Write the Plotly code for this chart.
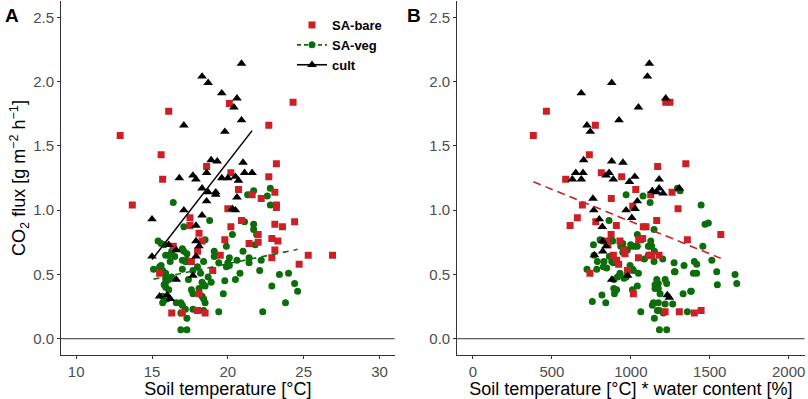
import plotly.graph_objects as go

# ---------------- data ----------------
# Panel A: soil temperature [°C] vs CO2 flux
bare_T = [12.9, 16.1, 20.1, 24.3, 15.6, 22.7, 23.2, 18.6, 20.2, 15.7, 22.7, 20.7, 23.1, 21.6, 22.2,
          13.7, 23.2, 23.2, 20.0, 20.2, 20.9, 17.5, 17.5, 21.4, 22.0, 22.0, 23.1, 23.6, 24.4, 22.9,
          23.3, 23.1, 22.9, 19.8, 19.5, 25.3, 26.9, 24.7, 19.0, 16.4, 18.1, 18.3, 18.0, 17.6, 15.5,
          18.1, 16.3, 17.0, 18.0, 18.5]
bare_F = [1.58, 1.77, 1.83, 1.84, 1.43, 1.66, 1.36, 1.34, 1.29, 1.24, 1.26, 1.16, 1.14, 1.12, 1.09,
          1.04, 1.04, 1.02, 1.01, 0.87, 0.92, 0.94, 0.88, 0.74, 0.81, 0.75, 0.89, 0.87, 0.91, 0.78,
          0.76, 0.69, 0.63, 0.77, 0.65, 0.65, 0.65, 0.58, 0.53, 0.72, 0.82, 0.76, 0.68, 0.60, 0.51,
          0.35, 0.20, 0.20, 0.22, 0.20]

veg_T = [16.4, 18.8, 17.1, 21.3, 21.7, 22.6, 22.8, 22.8, 21.1, 21.7, 21.7, 21.9, 20.3, 18.5, 19.9,
         21.0, 21.8, 19.1, 20.1, 21.4, 21.4, 22.2, 20.8, 22.1, 23.4, 24.0, 20.5, 19.8, 18.9, 18.3,
         19.7, 22.9, 24.4, 24.6, 23.8, 22.3, 19.4, 17.3, 16.9, 16.9, 17.3, 17.7, 18.4, 18.5, 18.4,
         18.3, 18.1, 18.5, 17.6, 17.7, 17.4, 17.0, 17.3, 17.0, 17.1, 17.0, 16.5, 16.3, 16.2, 15.9,
         15.8, 15.4, 15.6, 15.5, 15.1, 15.7, 15.9, 15.9, 16.1, 15.8, 15.9, 16.1, 15.7, 15.8, 15.7,
         16.6, 17.0, 16.3, 17.7, 18.2, 19.4, 20.0, 18.4, 16.1, 16.3, 17.3, 17.2, 17.3, 15.6, 20.1,
         19.9, 19.1, 18.0, 18.4, 16.0, 17.2, 16.9, 18.7, 20.6, 15.9]
veg_F = [1.06, 0.92, 0.87, 1.12, 1.15, 1.11, 1.17, 1.04, 0.91, 0.89, 0.85, 0.81, 0.81, 0.77, 0.72,
         0.68, 0.73, 0.68, 0.63, 0.63, 0.59, 0.61, 0.51, 0.53, 0.50, 0.51, 0.46, 0.45, 0.44, 0.44,
         0.35, 0.41, 0.43, 0.37, 0.28, 0.21, 0.21, 0.16, 0.20, 0.07, 0.07, 0.23, 0.22, 0.28, 0.31,
         0.33, 0.39, 0.41, 0.38, 0.35, 0.46, 0.54, 0.61, 0.70, 0.68, 0.61, 0.64, 0.68, 0.60, 0.65,
         0.73, 0.76, 0.74, 0.56, 0.54, 0.53, 0.51, 0.47, 0.46, 0.42, 0.40, 0.38, 0.33, 0.30, 0.28,
         0.28, 0.26, 0.48, 0.53, 0.51, 0.59, 0.59, 0.60, 0.65, 0.66, 0.66, 0.60, 0.60, 0.57, 0.57,
         0.56, 0.64, 0.56, 0.42, 0.31, 0.23, 0.28, 0.48, 0.61, 0.44]

cult_T = [20.9, 18.3, 18.7, 19.6, 20.6, 20.4, 20.9, 17.1, 19.8, 18.9, 19.3, 21.0, 18.6, 21.1, 21.6,
          16.8, 17.7, 17.9, 19.6, 20.0, 20.5, 20.7, 18.3, 18.7, 19.2, 19.2, 20.6, 18.6, 20.3, 20.5,
          15.0, 17.1, 18.3, 17.9, 17.9, 18.1, 16.1, 16.6, 17.9, 15.0, 16.6, 17.7, 15.5, 16.0, 16.2]
cult_F = [2.14, 2.04, 1.99, 1.91, 1.87, 1.80, 1.70, 1.66, 1.61, 1.39, 1.38, 1.37, 1.29, 1.29, 1.29,
          1.25, 1.27, 1.24, 1.25, 1.25, 1.26, 1.23, 1.17, 1.14, 1.14, 1.12, 1.10, 1.07, 1.01, 1.00,
          0.93, 1.00, 0.96, 0.88, 0.76, 0.72, 0.73, 0.69, 0.64, 0.64, 0.46, 0.49, 0.33, 0.34, 0.31]

# Panel B: soil temperature * water content vs CO2 flux
bare_TW = [382, 465, 1221, 1248, 737, 775, 1170, 1348, 813, 587, 942, 1031, 1261, 1126, 876,
           693, 1012, 661, 615, 778, 908, 875, 1079, 1096, 1050, 1075, 1164, 847, 855, 931,
           957, 963, 889, 910, 923, 1048, 1117, 978, 741, 1016, 1299, 1358, 1570, 1132, 1179,
           1217, 1307, 1402, 1445]
bare_F2 = [1.58, 1.77, 1.84, 1.84, 1.43, 1.66, 1.34, 1.36, 1.29, 1.24, 1.26, 1.16, 1.14, 1.12, 1.09,
           1.04, 1.03, 0.94, 0.88, 0.91, 0.88, 0.81, 0.87, 0.87, 0.77, 0.78, 0.92, 0.76, 0.73, 0.76,
           0.69, 0.66, 0.65, 0.61, 0.58, 0.63, 0.65, 0.53, 0.51, 0.35, 1.01, 0.77, 0.81, 0.65, 0.65,
           0.21, 0.21, 0.20, 0.22]

veg_TW = [970, 1077, 1295, 1312, 1122, 1147, 1445, 1470, 1491, 1456, 1041, 1126, 999, 1006, 1041,
          1111, 1149, 1086, 1147, 1202, 1274, 1337, 1402, 1417, 1396, 1417, 1513, 1544, 1548, 1660,
          1671, 1276, 1331, 1379, 1358, 1217, 1227, 1164, 1174, 1153, 1174, 1185, 1136, 1174, 1217,
          1265, 1149, 1181, 1181, 1227, 1063, 1041, 1010, 1048, 1016, 896, 910, 892, 841, 817,
          756, 722, 784, 763, 805, 822, 830, 847, 862, 949, 915, 893, 957, 949, 995,
          873, 885, 936, 953, 978, 1027, 1069, 1132, 1111, 767, 788, 826, 879, 889, 864,
          931, 970, 1012, 1153, 1168, 1206, 1280, 1383, 1143, 1122]
veg_F2 = [1.12, 1.11, 1.17, 1.15, 1.06, 0.85, 1.04, 0.89, 0.90, 0.72, 0.81, 0.76, 0.73, 0.72, 0.72,
          0.72, 0.68, 0.62, 0.60, 0.62, 0.59, 0.57, 0.60, 0.58, 0.51, 0.51, 0.61, 0.52, 0.42, 0.50,
          0.43, 0.52, 0.35, 0.37, 0.21, 0.46, 0.43, 0.46, 0.43, 0.39, 0.39, 0.35, 0.26, 0.28, 0.27,
          0.27, 0.16, 0.22, 0.07, 0.07, 0.21, 0.41, 0.38, 0.51, 0.53, 0.35, 0.38, 0.39, 0.28, 0.34,
          0.29, 0.54, 0.54, 0.73, 0.77, 0.76, 0.60, 0.55, 0.92, 0.74, 0.48, 0.46, 0.47, 0.67, 0.57,
          0.77, 0.76, 0.72, 0.70, 0.69, 0.72, 0.77, 0.72, 0.65, 0.65, 0.60, 0.56, 0.60, 0.59, 0.64,
          0.51, 0.48, 0.54, 0.42, 0.22, 0.20, 0.52, 0.37, 0.28, 0.72]

cult_TW = [1117, 1105, 879, 686, 1221, 1048, 925, 722, 743, 701, 879, 950, 651, 697, 862,
           843, 629, 686, 889, 1025, 991, 1179, 1136, 1164, 1179, 1204, 1307, 760, 1041, 1027,
           970, 765, 1006, 800, 819, 822, 843, 822, 769, 879, 980, 1231, 1244]
cult_F2 = [2.14, 2.04, 1.99, 1.91, 1.87, 1.80, 1.70, 1.66, 1.61, 1.39, 1.38, 1.37, 1.29, 1.29, 1.29,
           1.27, 1.24, 1.24, 1.24, 1.26, 1.22, 1.24, 1.15, 1.14, 1.17, 1.13, 1.17, 1.09, 1.07, 1.01,
           1.00, 1.00, 0.94, 0.93, 0.87, 0.76, 0.72, 0.68, 0.65, 0.46, 0.49, 0.34, 0.32]

# linear fits (intercept, slope)
fit_cult_T = [-1.665, 0.152]
fit_veg_T = [0.095, 0.0244]
fit_bare_TW = [1.413, -0.000502]

group_names = ["SA-bare", "SA-veg", "cult"]
xticks_A = [10, 15, 20, 25, 30]
xticks_B = [0, 500, 1000, 1500, 2000]
yticks = [0.0, 0.5, 1.0, 1.5, 2.0, 2.5]

# ---------------- styles ----------------
RED = "#CC2027"
GREEN = "#0B6E0B"
BLACK = "#000000"
FONT = "Liberation Sans, Arial, sans-serif"

def fit_line(coef, xs):
    x0, x1 = min(xs), max(xs)
    return [x0, x1], [coef[0] + coef[1] * x0, coef[0] + coef[1] * x1]

fig = go.Figure()

mk = dict(line=dict(width=0))
# Panel A
fig.add_trace(go.Scatter(x=veg_T, y=veg_F, mode="markers", xaxis="x", yaxis="y", showlegend=False,
                         marker=dict(symbol="circle", size=7, color=GREEN, **mk)))
fig.add_trace(go.Scatter(x=bare_T, y=bare_F, mode="markers", xaxis="x", yaxis="y", showlegend=False,
                         marker=dict(symbol="square", size=7, color=RED, **mk)))
fig.add_trace(go.Scatter(x=cult_T, y=cult_F, mode="markers", xaxis="x", yaxis="y", showlegend=False,
                         marker=dict(symbol="triangle-up", size=8.5, color=BLACK, **mk)))
lx, ly = fit_line(fit_cult_T, cult_T)
fig.add_trace(go.Scatter(x=lx, y=ly, mode="lines", xaxis="x", yaxis="y", showlegend=False,
                         line=dict(color=BLACK, width=1.5)))
lx, ly = fit_line(fit_veg_T, veg_T)
fig.add_trace(go.Scatter(x=lx, y=ly, mode="lines", xaxis="x", yaxis="y", showlegend=False,
                         line=dict(color=GREEN, width=1.6, dash="6px,5px")))

# Panel B
fig.add_trace(go.Scatter(x=veg_TW, y=veg_F2, mode="markers", xaxis="x2", yaxis="y2", showlegend=False,
                         marker=dict(symbol="circle", size=7, color=GREEN, **mk)))
fig.add_trace(go.Scatter(x=bare_TW, y=bare_F2, mode="markers", xaxis="x2", yaxis="y2", showlegend=False,
                         marker=dict(symbol="square", size=7, color=RED, **mk)))
fig.add_trace(go.Scatter(x=cult_TW, y=cult_F2, mode="markers", xaxis="x2", yaxis="y2", showlegend=False,
                         marker=dict(symbol="triangle-up", size=8.5, color=BLACK, **mk)))
lx, ly = fit_line(fit_bare_TW, bare_TW)
fig.add_trace(go.Scatter(x=lx, y=ly, mode="lines", xaxis="x2", yaxis="y2", showlegend=False,
                         line=dict(color=RED, width=1.6, dash="8px,5px")))

# legend entries
fig.add_trace(go.Scatter(x=[None], y=[None], mode="markers", name=group_names[0], xaxis="x", yaxis="y",
                         marker=dict(symbol="square", size=7, color=RED, **mk)))
fig.add_trace(go.Scatter(x=[None], y=[None], mode="lines+markers", name=group_names[1], xaxis="x", yaxis="y",
                         marker=dict(symbol="circle", size=7, color=GREEN, **mk),
                         line=dict(color=GREEN, width=1.6, dash="4px,3px")))
fig.add_trace(go.Scatter(x=[None], y=[None], mode="lines+markers", name=group_names[2], xaxis="x", yaxis="y",
                         marker=dict(symbol="triangle-up", size=8.5, color=BLACK, **mk),
                         line=dict(color=BLACK, width=1.6)))

W, H = 808, 399
ydom = [(H - 354.8) / H, (H - 1.2) / H]
axis_common = dict(showgrid=False, zeroline=False, showline=True, linecolor="#333333", linewidth=1,
                   ticks="outside", ticklen=3, tickcolor="#333333", tickwidth=1,
                   tickfont=dict(family=FONT, size=15, color="#4D4D4D"), automargin=False)

fig.update_layout(
    width=W, height=H,
    margin=dict(l=0, r=0, t=0, b=0),
    paper_bgcolor="white", plot_bgcolor="white",
    font=dict(family=FONT),
    xaxis=dict(domain=[61 / W, 394.7 / W], range=[9, 31], tickvals=xticks_A, anchor="y",
               title=dict(text="Soil temperature [°C]", font=dict(family=FONT, size=18, color="#000"), standoff=4),
               **axis_common),
    yaxis=dict(domain=ydom, range=[-0.125, 2.625], tickvals=yticks, tickformat=".1f", anchor="x",
               title=dict(text="CO<sub>2</sub> flux [g m<sup>−2</sup> h<sup>−1</sup>]",
                          font=dict(family=FONT, size=18, color="#000"), standoff=2),
               **axis_common),
    xaxis2=dict(domain=[457.2 / W, 804.5 / W], range=[-100, 2100], tickvals=xticks_B, anchor="y2",
                title=dict(text="Soil temperature [°C] * water content [%]",
                           font=dict(family=FONT, size=18, color="#000"), standoff=4),
                **axis_common),
    yaxis2=dict(domain=ydom, range=[-0.125, 2.625], tickvals=yticks, tickformat=".1f", anchor="x2",
                **axis_common),
    legend=dict(x=292 / W, y=(H - 10) / H, xanchor="left", yanchor="top",
                font=dict(family=FONT, size=13, color="#000", weight="bold"),
                bgcolor="rgba(0,0,0,0)", tracegroupgap=0),
    shapes=[
        dict(type="line", xref="x domain", yref="y", x0=0, x1=1, y0=0, y1=0,
             line=dict(color="#333333", width=1)),
        dict(type="line", xref="x2 domain", yref="y2", x0=0, x1=1, y0=0, y1=0,
             line=dict(color="#333333", width=1)),
    ],
    annotations=[
        dict(text="<b>A</b>", xref="paper", yref="paper", x=3 / W, y=(H - 15) / H, xanchor="left",
             yanchor="middle", showarrow=False, font=dict(family=FONT, size=19, color="#000")),
        dict(text="<b>B</b>", xref="paper", yref="paper", x=405 / W, y=(H - 15) / H, xanchor="left",
             yanchor="middle", showarrow=False, font=dict(family=FONT, size=19, color="#000")),
    ],
)

fig.write_html("out.html", config={"displayModeBar": False},
               post_script="document.body.style.margin='0px';document.body.style.overflow='hidden';")
